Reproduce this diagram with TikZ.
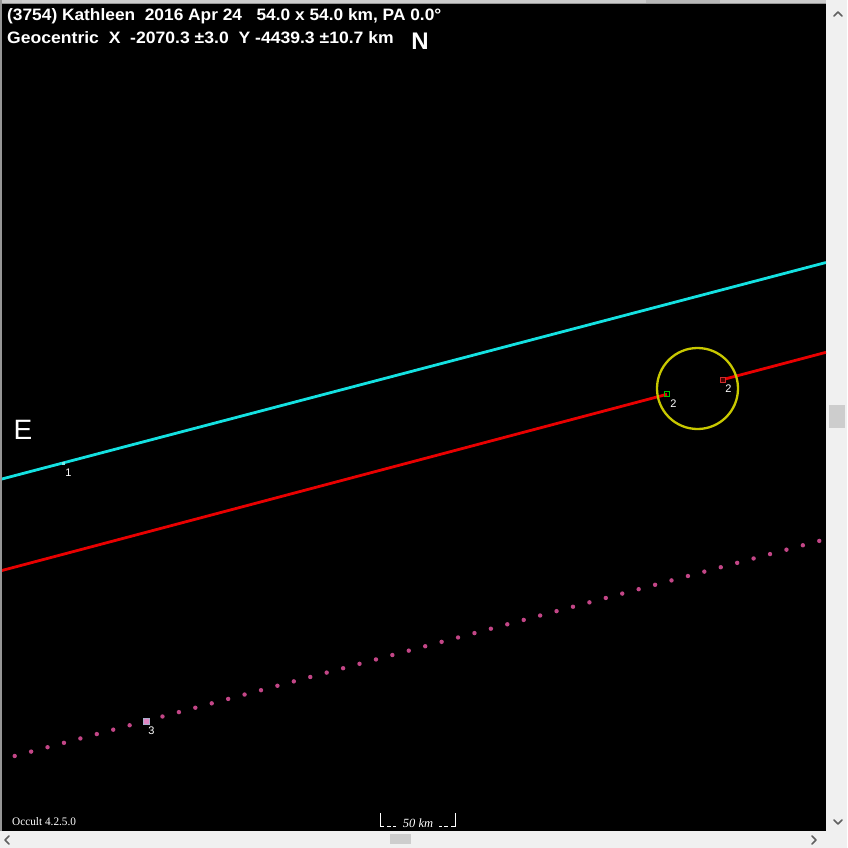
\documentclass[tikz,border=0pt]{standalone}
\usepackage{fontspec}
\setmainfont{Liberation Sans}
\newfontfamily\serifx{Liberation Serif}
\definecolor{winbg}{RGB}{240,240,240}
\definecolor{thumb}{RGB}{205,205,205}
\definecolor{glyph}{RGB}{96,96,96}
\definecolor{edge}{RGB}{150,150,150}
\definecolor{cyanline}{RGB}{20,225,225}
\definecolor{redline}{RGB}{232,0,0}
\definecolor{ring}{RGB}{200,200,0}
\definecolor{dotpink}{RGB}{195,70,135}
\definecolor{sqpink}{RGB}{225,135,195}
\definecolor{sqedge}{RGB}{170,175,205}
\definecolor{greensq}{RGB}{0,200,0}
\definecolor{redsq}{RGB}{205,45,45}
\begin{document}
\begin{tikzpicture}[x=1pt,y=-1pt,
  lbl/.style={text=white,font=\fontsize{11}{11}\selectfont,inner sep=0pt},
  chev/.style={draw=glyph,line width=1.5pt,line cap=round,line join=round},
  chord/.style={line width=2.8pt},
  scalebar/.style={white,line width=0.8pt}]
\useasboundingbox (0,0) rectangle (847,848);
% window background
\fill[winbg] (0,0) rectangle (847,848);
\fill[black!20] (0,0) rectangle (826,3);
\fill[black!28] (646,0) rectangle (720,3);
\fill[edge] (0,0) rectangle (2,831);
% plot area
\fill[black] (2,3) rectangle (826,831);
\draw[edge,line width=0.8pt] (2,3.4) -- (826,3.4);
% scrollbars
\fill[thumb] (829,405) rectangle (845,428);
\fill[thumb] (390,834) rectangle (411,844);
\draw[chev] (834,16) -- (838,12) -- (842,16);
\draw[chev] (834,820) -- (838,824) -- (842,820);
\draw[chev] (9,836) -- (5,840) -- (9,844);
\draw[chev] (812,836) -- (816,840) -- (812,844);
\begin{scope}
\clip (2,3) rectangle (826,831);
% cyan chord
\coordinate (c0) at (0,479.5);
\coordinate (c1) at (826,262.5);
\draw[cyanline,chord] (c0) -- (c1);
% red chord
\coordinate (r0) at (0,571);
\coordinate (g2) at (667,394.3);
\coordinate (r2) at (722.7,379.6);
\coordinate (r1) at (826,352.3);
\draw[redline,chord] (r0) -- (g2);
\draw[redline,chord] (r2) -- (r1);
% asteroid outline
\draw[ring,line width=2.3pt] (697.5,388.5) circle[radius=40.5pt];
% markers
\draw[greensq,line width=1pt] (664.5,391.8) rectangle (669.5,396.8);
\fill[black!70!red] (720.2,377.1) rectangle (725.2,382.1);
\draw[redsq,line width=1pt] (720.2,377.1) rectangle (725.2,382.1);
\fill[cyanline!60!white] (61.5,461.5) rectangle (65,465);
% dotted chord
\foreach \i in {0,...,7,9,10,...,49}
  \fill[dotpink] ({14.7+16.42*\i},{756-4.39*\i}) circle[radius=2.2pt];
\fill[sqpink] (143,718) rectangle (149.5,724.5);
\draw[sqedge,line width=0.8pt] (143,718) rectangle (149.5,724.5);
\end{scope}
% labels
\node[lbl] (l1) at (68.5,472.5) {1};
\node[lbl] (l2a) at (673.5,403.5) {2};
\node[lbl] (l2b) at (728.5,388.5) {2};
\node[lbl] (l3) at (151.5,730.5) {3};
% title
\node[anchor=base west,inner sep=0pt,text=white,font=\bfseries\fontsize{16.5}{16.5}\selectfont] (t1) at (7,21)
  {\scalebox{1.05}[1]{(3754) Kathleen\ \ 2016 Apr 24\ \ \ 54.0 x 54.0 km, PA 0.0°}};
\node[anchor=base west,inner sep=0pt,text=white,font=\bfseries\fontsize{16.5}{16.5}\selectfont] (t2) at (7,44)
  {\scalebox{1.065}[1]{Geocentric\ \ X\ \ -2070.3 ±3.0\ \ Y -4439.3 ±10.7 km}};
\node[anchor=base,inner sep=0pt,text=white,font=\bfseries\fontsize{24}{24}\selectfont] (n) at (420,50) {N};
\node[anchor=base,inner sep=0pt,text=white,font=\fontsize{28}{28}\selectfont] (e) at (23,439) {E};
% footer
\node[anchor=base west,inner sep=0pt,text=white,font=\serifx\fontsize{11.5}{11.5}\selectfont] (ver) at (12,825)
  {\scalebox{0.98}[1]{Occult 4.2.5.0}};
\coordinate (sL) at (380,813);
\coordinate (sR) at (455,813);
\draw[scalebar] (sL) -- (380,826) -- (384,826);
\draw[scalebar] (sR) -- (455,826) -- (451,826);
\draw[scalebar] (387,826) -- (391,826) (393,826) -- (396,826);
\draw[scalebar] (439,826) -- (442,826) (444,826) -- (448,826);
\node[anchor=base,inner sep=0pt,text=white,font=\serifx\itshape\fontsize{12.5}{12.5}\selectfont] (km) at (418,827) {50 km};
\end{tikzpicture}
\end{document}
